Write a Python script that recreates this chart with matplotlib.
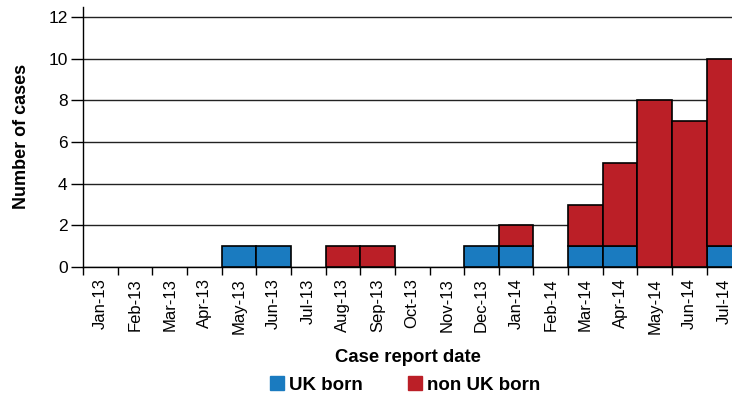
import numpy as np
import matplotlib.pyplot as plt
from matplotlib.lines import Line2D

plt.rcParams['font.family'] = ['Liberation Sans', 'DejaVu Sans']

months = ["Jan-13", "Feb-13", "Mar-13", "Apr-13", "May-13", "Jun-13", "Jul-13",
          "Aug-13", "Sep-13", "Oct-13", "Nov-13", "Dec-13", "Jan-14", "Feb-14",
          "Mar-14", "Apr-14", "May-14", "Jun-14", "Jul-14"]
uk_born = [0, 0, 0, 0, 1, 1, 0, 0, 0, 0, 0, 1, 1, 0, 1, 1, 0, 0, 1]
non_uk_born = [0, 0, 0, 0, 0, 0, 0, 1, 1, 0, 0, 0, 1, 0, 2, 4, 8, 7, 9]

blue = '#1a7bc0'
red = '#bb1f27'

fig = plt.figure(figsize=(7.32, 3.98), dpi=100)
ax = fig.add_axes([0.1134, 0.329, 0.8866, 0.654])

x = np.arange(len(months))
uk = np.array(uk_born)
non = np.array(non_uk_born)
# skip empty months so no outline is drawn on the baseline
m1 = uk > 0
m2 = non > 0
ax.bar(x[m1], uk[m1], width=1.0, color=blue, edgecolor='black', linewidth=1.2, zorder=3)
ax.bar(x[m2], non[m2], width=1.0, bottom=uk[m2], color=red, edgecolor='black', linewidth=1.2, zorder=3)

ax.set_xlim(-0.5, 18.23)
ax.set_ylim(0, 12.5)
ax.set_yticks(range(0, 13, 2))
ax.tick_params(axis='y', labelsize=12.5, length=9, width=1, pad=2)
ax.yaxis.grid(True, color='#222222', linewidth=1, zorder=0)
ax.set_axisbelow(True)

# ticks on the month boundaries, labels in the middle
ax.set_xticks(np.arange(len(months)) - 0.5)
ax.set_xticklabels([])
ax.set_xticks(x, minor=True)
ax.set_xticklabels(months, minor=True, rotation=90, fontsize=12)
ax.tick_params(axis='x', which='major', length=6, width=1)
ax.tick_params(axis='x', which='minor', length=0, pad=8)

for s in ['top', 'right']:
    ax.spines[s].set_visible(False)
ax.spines['left'].set_linewidth(1)
ax.spines['bottom'].set_linewidth(1)

ax.set_ylabel("Number of cases", fontsize=13, fontweight='bold', labelpad=13)
ax.set_xlabel("Case report date", fontsize=13.3, fontweight='bold', labelpad=11)

handles = [Line2D([], [], marker='s', linestyle='none', markersize=9.5, color=blue),
           Line2D([], [], marker='s', linestyle='none', markersize=9.5, color=red)]
leg = ax.legend(handles, ["UK born", "non UK born"], ncol=2, loc='center',
                bbox_to_anchor=(0.493, -0.455), frameon=False, handletextpad=0.05,
                handlelength=1.2, columnspacing=2.2, prop={'size': 13.5, 'weight': 'bold'})

plt.savefig("out.png", dpi=100)
